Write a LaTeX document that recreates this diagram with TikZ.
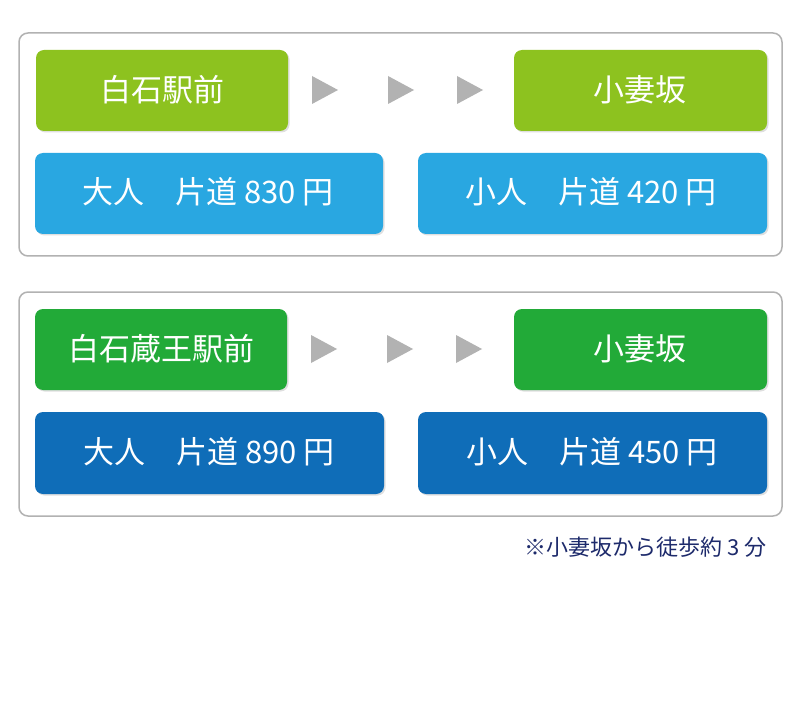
\documentclass[tikz,border=0pt]{standalone}
\usepackage{fontspec}
\newfontfamily\cjk{Noto Sans CJK JP}[Scale=1]
\usetikzlibrary{shadows}
\definecolor{lgreen}{HTML}{8DC21F}
\definecolor{dgreen}{HTML}{22AA38}
\definecolor{lblue}{HTML}{29A7E1}
\definecolor{dblue}{HTML}{0F6DB8}
\definecolor{navy}{HTML}{1D2A6B}
\tikzset{
  frame/.style={draw=black!30,line width=1.5pt,rounded corners=9pt,fill=white},
  tbox/.style={rounded corners=8pt,draw=none,drop shadow={shadow xshift=1.5pt,shadow yshift=-1.5pt,opacity=0.25},text=white,font=\cjk\fontsize{31}{31}\selectfont},
  tri/.style={fill=black!30,draw=none},
}
\begin{document}
\begin{tikzpicture}[x=1pt,y=-1pt]
\useasboundingbox (0,0) rectangle (800,727);
\fill[white] (0,0) rectangle (800,727);
% frame 1
\draw[frame] (19,33) rectangle (782,256);
\path[tbox,fill=lgreen] (36,50) rectangle (288,131);
\node[text=white,font=\cjk\fontsize{31}{31}\selectfont] (a1) at (162,90) {白石駅前};
\path[tbox,fill=lgreen] (514,50) rectangle (767,131);
\node[text=white,font=\cjk\fontsize{31}{31}\selectfont] (b1) at (640,90) {小妻坂};
\foreach \x in {312,388,457} \fill[tri] (\x,76) -- (\x+26,90) -- (\x,104) -- cycle;
\path[tbox,fill=lblue] (35,153) rectangle (383,234);
\node[text=white,font=\cjk\fontsize{31}{31}\selectfont] (c1) at (208,192) {大人\hspace{1em}片道 830 円};
\path[tbox,fill=lblue] (418,153) rectangle (767,234);
\node[text=white,font=\cjk\fontsize{31}{31}\selectfont] (d1) at (591,192) {小人\hspace{1em}片道 420 円};
% frame 2
\draw[frame] (19,292) rectangle (782,516);
\path[tbox,fill=dgreen] (35,309) rectangle (287,390);
\node[text=white,font=\cjk\fontsize{31}{31}\selectfont] (a2) at (161,349) {白石蔵王駅前};
\path[tbox,fill=dgreen] (514,309) rectangle (767,390);
\node[text=white,font=\cjk\fontsize{31}{31}\selectfont] (b2) at (640,349) {小妻坂};
\foreach \x in {311,387,456} \fill[tri] (\x,335) -- (\x+26,349) -- (\x,363) -- cycle;
\path[tbox,fill=dblue] (35,412) rectangle (384,494);
\node[text=white,font=\cjk\fontsize{31}{31}\selectfont] (c2) at (209,452) {大人\hspace{1em}片道 890 円};
\path[tbox,fill=dblue] (418,412) rectangle (767,494);
\node[text=white,font=\cjk\fontsize{31}{31}\selectfont] (d2) at (592,452) {小人\hspace{1em}片道 450 円};
\node[anchor=east,text=navy,font=\cjk\fontsize{22}{22}\selectfont,inner sep=0] (n) at (767,547) {※小妻坂から徒歩約 3 分};
\end{tikzpicture}
\end{document}
